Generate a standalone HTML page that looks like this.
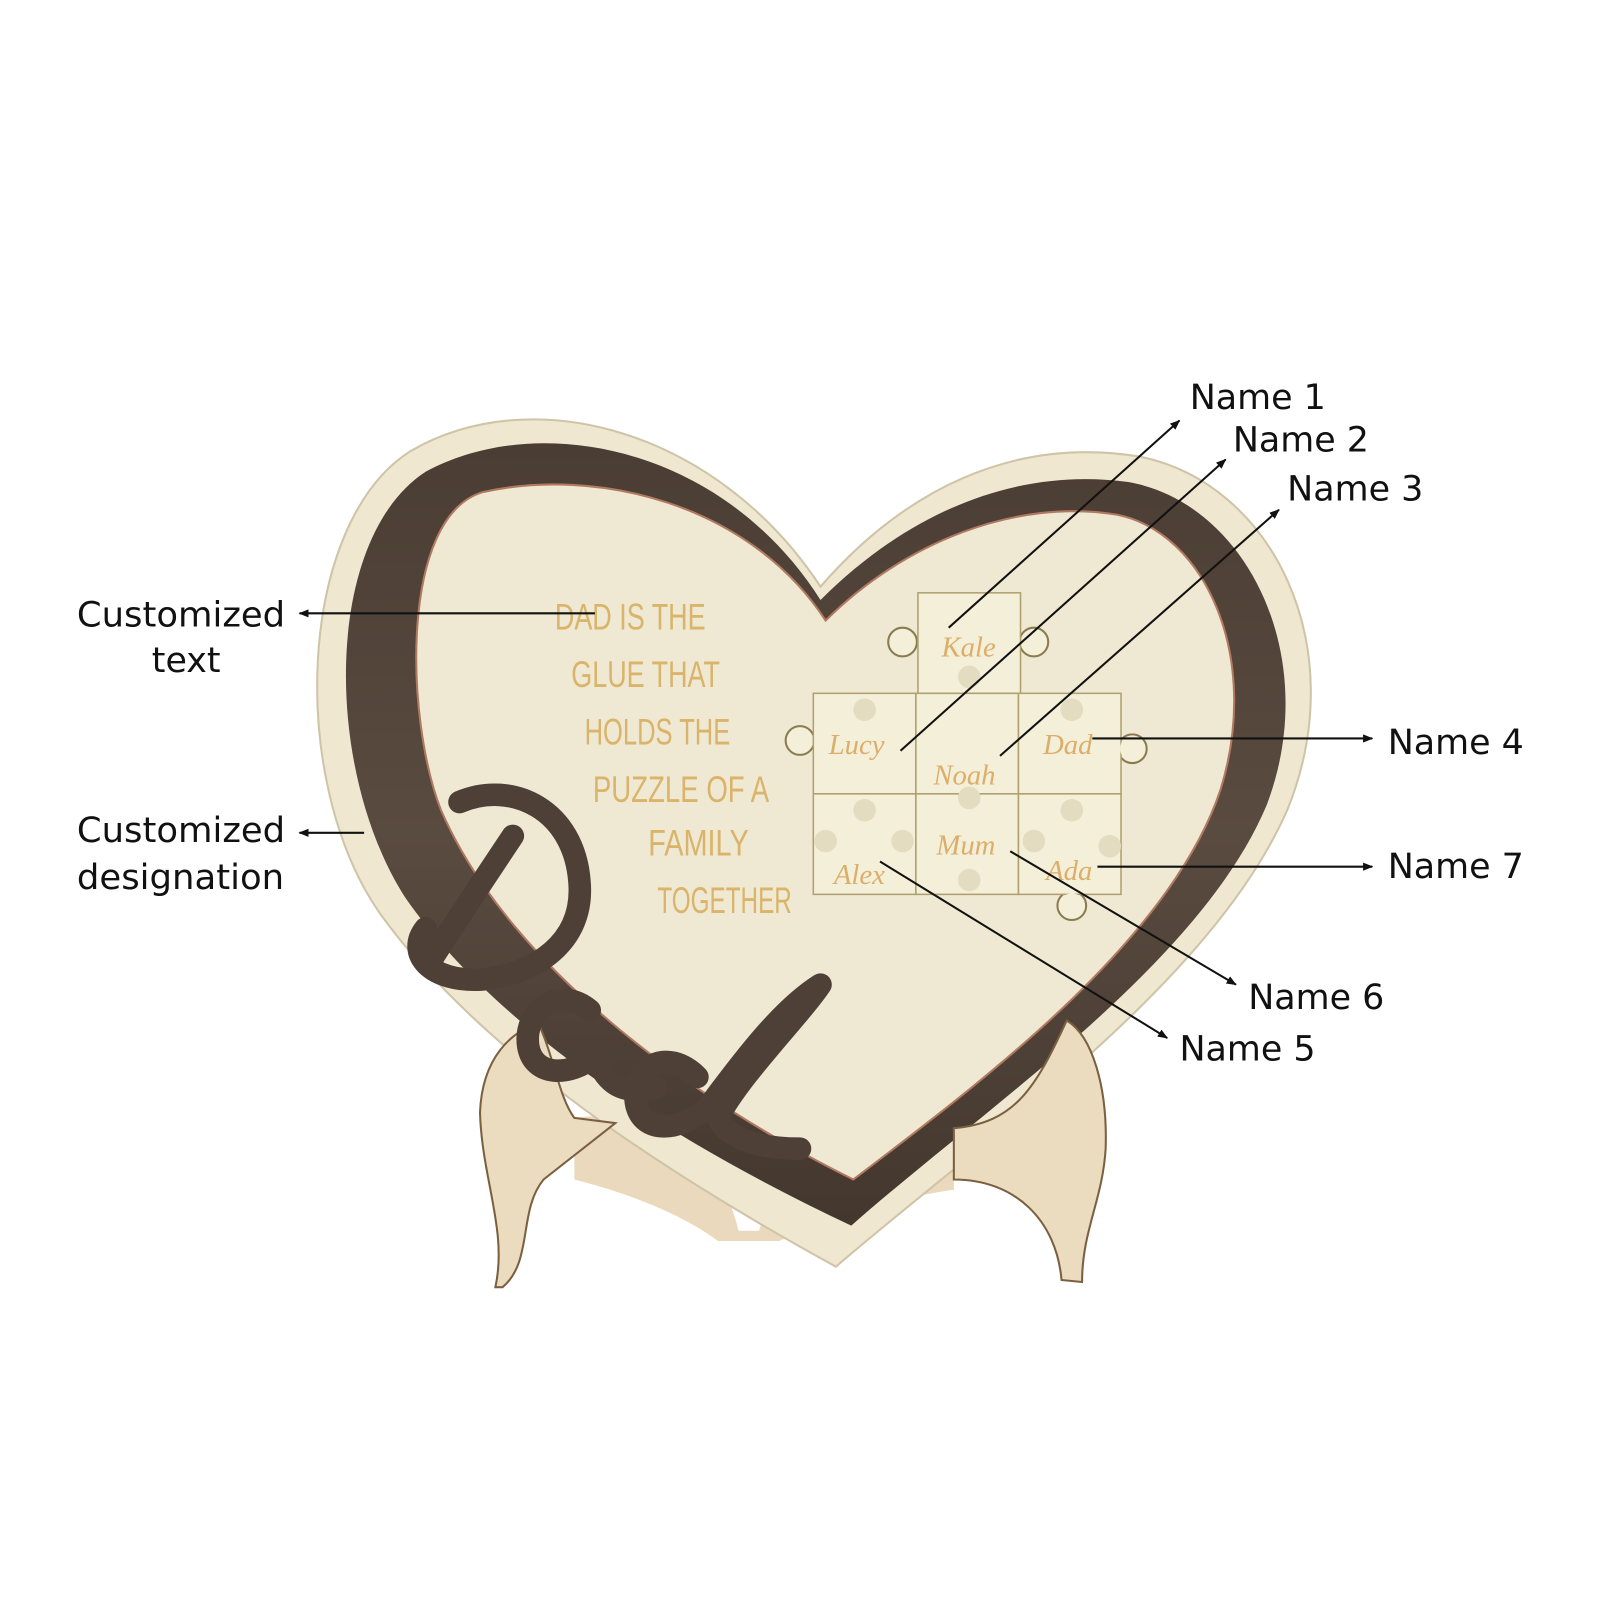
<!DOCTYPE html>
<html><head><meta charset="utf-8"><style>
html,body{margin:0;padding:0;background:#fff;}
svg{display:block}
.lbl{font-family:"DejaVu Sans","Liberation Sans",sans-serif;font-size:34px;fill:#111;}
.gold{font-family:"Liberation Sans Narrow","Liberation Sans",sans-serif;font-size:36px;fill:#d9b46a;}
.nm{font-family:"Liberation Serif",serif;font-style:italic;font-size:28px;fill:#dcae6a}
</style></head><body>
<svg width="1600" height="1600" viewBox="0 0 1560 1560" xmlns="http://www.w3.org/2000/svg">
<defs>
<marker id="ar" markerWidth="10" markerHeight="8" refX="9" refY="4" orient="auto" markerUnits="userSpaceOnUse"><path d="M0,0 L10,4 L0,8 Z" fill="#111"/></marker>
<linearGradient id="wood" x1="0" y1="0" x2="0" y2="1">
<stop offset="0" stop-color="#4a3d33"/><stop offset="0.5" stop-color="#5a4b40"/><stop offset="1" stop-color="#43372e"/></linearGradient>
</defs>
<path d="M560,1090 C620,1080 700,1110 720,1200 L740,1200 C760,1130 860,1090 930,1100 L930,1160 C860,1170 800,1190 760,1210 L700,1210 C660,1180 600,1160 560,1150 Z" fill="#ead9bc"/>
<path d="M800,572 C700,420 520,370 400,440 C290,510 280,760 370,890 C470,1030 660,1150 815,1235 C960,1110 1180,960 1255,790 C1320,630 1240,470 1110,445 C985,425 880,480 800,572 Z" fill="#efe7cf" stroke="#cfc4a8" stroke-width="2"/>
<path d="M800,585 C705,435 525,400 415,460 C315,525 315,750 395,875 C485,1005 660,1115 830,1195 C960,1080 1170,940 1235,785 C1290,640 1215,490 1100,470 C990,455 885,500 800,585 Z" fill="url(#wood)"/>
<path d="M805,605 C730,490 580,455 470,480 C390,505 395,700 430,790 C500,950 690,1080 832,1150 C950,1060 1140,920 1190,770 C1230,640 1175,520 1090,502 C990,485 880,530 805,605 Z" fill="#efe8d2" stroke="#b07a62" stroke-width="2"/>
<path d="M468,1085 C470,1030 500,1005 525,998 C540,1030 545,1070 560,1090 L600,1095 L530,1150 C505,1180 520,1230 490,1255 L483,1255 C495,1200 470,1150 468,1085 Z" fill="#ecdcbf" stroke="#7a6040" stroke-width="2"/>
<path d="M1040,995 C1065,1010 1080,1060 1078,1120 C1075,1170 1055,1200 1055,1250 L1035,1248 C1030,1190 990,1150 930,1150 L930,1100 C990,1095 1010,1060 1040,995 Z" fill="#ecdcbf" stroke="#7a6040" stroke-width="2"/>
<g fill="none" stroke="#4e4036" stroke-width="22" stroke-linecap="round" stroke-linejoin="round">
<path d="M448,782 C500,760 560,790 565,860 C570,920 520,950 470,955 C420,958 395,930 415,905"/>
<path d="M500,815 C470,860 440,905 418,940"/>
<path d="M575,985 C545,960 510,985 515,1020 C520,1050 555,1050 580,1030 C590,1050 600,1070 640,1060"/>
<path d="M680,1050 C650,1020 615,1040 620,1075 C625,1105 660,1105 690,1080 C720,1040 760,985 800,960 C780,990 720,1050 700,1090 C710,1110 740,1120 780,1120"/>
</g>
<g class="gold">
<text x="541" y="614" textLength="147" lengthAdjust="spacingAndGlyphs">DAD IS THE</text>
<text x="557" y="670" textLength="145" lengthAdjust="spacingAndGlyphs">GLUE THAT</text>
<text x="570" y="726" textLength="142" lengthAdjust="spacingAndGlyphs">HOLDS THE</text>
<text x="578" y="782" textLength="172" lengthAdjust="spacingAndGlyphs">PUZZLE OF A</text>
<text x="632" y="834" textLength="98" lengthAdjust="spacingAndGlyphs">FAMILY</text>
<text x="641" y="890" textLength="131" lengthAdjust="spacingAndGlyphs">TOGETHER</text>
</g>
<g fill="#f3efd9" stroke="#8a7a50" stroke-width="2">
<circle cx="880" cy="626" r="14"/><circle cx="1008" cy="626" r="14"/>
<circle cx="780" cy="722" r="14"/><circle cx="1104" cy="730" r="14"/>
<circle cx="1045" cy="883" r="14"/>
</g>
<g fill="#f3efd9" stroke="#b0a070" stroke-width="1.5">
<rect x="895" y="578" width="100" height="98"/>
<rect x="793" y="676" width="100" height="98"/>
<rect x="893" y="676" width="100" height="98"/>
<rect x="993" y="676" width="100" height="98"/>
<rect x="793" y="774" width="100" height="98"/>
<rect x="893" y="774" width="100" height="98"/>
<rect x="993" y="774" width="100" height="98"/>
</g>
<g fill="#f3efd9"><circle cx="880" cy="626" r="12"/><circle cx="1008" cy="626" r="12"/><circle cx="780" cy="722" r="12"/><circle cx="1104" cy="730" r="12"/><circle cx="1045" cy="883" r="12"/></g>
<g fill="#e4dcc0"><circle cx="945" cy="660" r="11"/><circle cx="843" cy="692" r="11"/><circle cx="1045" cy="692" r="11"/><circle cx="843" cy="790" r="11"/><circle cx="945" cy="778" r="11"/><circle cx="1045" cy="790" r="11"/><circle cx="805" cy="820" r="11"/><circle cx="1082" cy="825" r="11"/><circle cx="945" cy="858" r="11"/><circle cx="880" cy="820" r="11"/><circle cx="1008" cy="820" r="11"/></g>
<g class="nm">
<text x="918" y="640">Kale</text><text x="808" y="735">Lucy</text><text x="1017" y="735">Dad</text><text x="910" y="765">Noah</text><text x="913" y="833">Mum</text><text x="813" y="862">Alex</text><text x="1020" y="858">Ada</text>
</g>
<g stroke="#111" stroke-width="2" fill="none" marker-end="url(#ar)">
<line x1="580" y1="598" x2="292" y2="598"/>
<line x1="355" y1="812" x2="292" y2="812"/>
<line x1="925" y1="612" x2="1150" y2="410"/>
<line x1="878" y1="732" x2="1195" y2="448"/>
<line x1="975" y1="737" x2="1247" y2="497"/>
<line x1="1065" y1="720" x2="1338" y2="720"/>
<line x1="1070" y1="845" x2="1338" y2="845"/>
<line x1="985" y1="830" x2="1205" y2="960"/>
<line x1="858" y1="840" x2="1138" y2="1012"/>
</g>
<g class="lbl">
<text x="75" y="611" textLength="203" lengthAdjust="spacingAndGlyphs">Customized</text><text x="148" y="655">text</text>
<text x="75" y="821" textLength="203" lengthAdjust="spacingAndGlyphs">Customized</text><text x="75" y="867" textLength="202" lengthAdjust="spacingAndGlyphs">designation</text>
<text x="1160" y="399">Name 1</text><text x="1202" y="440">Name 2</text><text x="1255" y="488">Name 3</text>
<text x="1353" y="735">Name 4</text><text x="1353" y="856">Name 7</text>
<text x="1217" y="984">Name 6</text><text x="1150" y="1034">Name 5</text>
</g>
</svg>
</body></html>
